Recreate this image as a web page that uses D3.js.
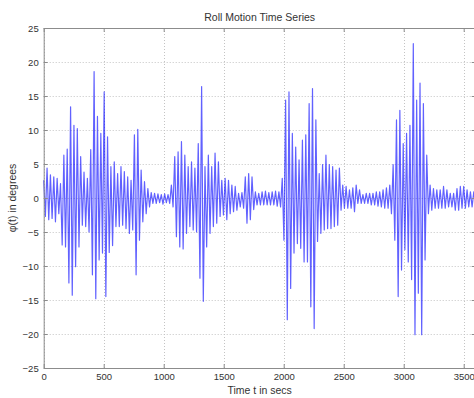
<!DOCTYPE html>
<html>
<head>
<meta charset="utf-8">
<script src="https://cdn.jsdelivr.net/npm/d3@7"></script>
<style>
  body { margin: 0; background: #fff; }
  svg { display: block; }
  text { font-family: "Liberation Sans", Arial, sans-serif; fill: #333; }
</style>
</head>
<body>
<svg id="chart" width="474" height="398"></svg>
<script>
// one crest and one trough per roll cycle (degrees)
const cycleSecs = 28;
const crestDeg = [
  2.6, 4.4, 3.4, 3.1, 2.9, 2.1, 6.3, 7.2, 13.4, 10.7,
  10.2, 6.1, 3.8, 2.9, 7.1, 18.6, 12.0, 9.5, 15.6, 9.0,
  4.6, 5.3, 3.6, 4.6, 3.9, 3.1, 2.6, 9.3, 10.1, 4.1,
  2.4, 1.4, 0.8, 0.7, 0.6, 0.5, 0.6, 0.5, 1.9, 6.1,
  6.8, 8.3, 6.3, 4.6, 5.3, 4.4, 8.0, 16.4, 4.6, 6.3,
  4.6, 6.6, 5.3, 2.6, 2.9, 2.6, 1.9, 1.7, 0.7, 0.8,
  3.1, 3.6, 3.1, 0.9, 0.7, 0.9, 1.0, 0.8, 0.9, 1.0,
  0.9, 2.9, 14.4, 15.6, 9.5, 7.5, 5.6, 8.5, 9.3, 13.9,
  16.1, 11.5, 3.6, 4.9, 6.3, 4.9, 4.6, 4.1, 4.4, 1.9,
  1.7, 1.2, 1.5, 1.9, 1.2, 0.5, 0.7, 0.7, 0.7, 0.9,
  0.9, 1.2, 1.5, 1.9, 4.9, 11.5, 12.9, 8.0, 9.5, 10.7,
  22.7, 14.4, 16.9, 13.9, 6.3, 1.9, 1.4, 1.2, 1.2, 1.7,
  1.2, 0.7, 0.7, 1.4, 1.7, 1.7, 1.2, 0.9, 0.9
];
const troughDeg = [
  -2.7, -3.2, -3.0, -3.5, -2.3, -6.9, -7.2, -12.5, -14.3, -10.1,
  -7.2, -4.0, -4.2, -5.0, -11.3, -14.8, -9.1, -8.1, -14.5, -8.0,
  -7.0, -4.2, -4.2, -4.0, -4.5, -5.2, -4.7, -11.3, -6.2, -3.5,
  -2.3, -1.3, -0.8, -0.8, -0.7, -0.9, -0.7, -0.8, -1.3, -5.7,
  -7.2, -7.5, -5.2, -4.2, -4.7, -5.0, -11.8, -15.2, -7.2, -5.2,
  -4.2, -3.7, -2.7, -2.5, -3.2, -2.3, -2.0, -1.8, -1.3, -1.5,
  -3.7, -3.2, -1.7, -1.0, -1.0, -1.0, -1.0, -1.0, -1.0, -1.2,
  -1.3, -6.2, -17.9, -13.3, -8.1, -6.7, -7.4, -9.4, -9.4, -16.0,
  -19.2, -6.4, -5.2, -4.7, -4.5, -4.5, -4.2, -4.0, -1.8, -1.5,
  -1.5, -1.5, -2.0, -0.8, -0.8, -0.8, -0.8, -1.0, -1.0, -1.2,
  -1.3, -1.5, -1.5, -2.3, -6.2, -14.5, -10.6, -7.6, -9.4, -12.0,
  -20.1, -14.0, -20.1, -9.1, -2.3, -1.8, -1.5, -1.5, -1.5, -1.5,
  -1.3, -1.3, -1.8, -1.8, -1.5, -1.5, -1.3, -1.3, -1.0
];
const xTicks = [0, 500, 1000, 1500, 2000, 2500, 3000, 3500];
const yTicks = [-25, -20, -15, -10, -5, 0, 5, 10, 15, 20, 25];

const plotLeft = 43.7, plotTop = 28, plotW = 432, plotH = 340;

const svg = d3.select("#chart");

const x = d3.scaleLinear().domain([0, 3600]).range([plotLeft, plotLeft + plotW]);
const y = d3.scaleLinear().domain([-25, 25]).range([plotTop + plotH, plotTop]);

// dotted grid
const grid = svg.append("g")
    .attr("stroke", "#c4c4c4")
    .attr("stroke-width", 1)
    .attr("stroke-dasharray", "1,2");
grid.selectAll("line.v")
    .data(xTicks)
    .join("line")
    .attr("x1", d => Math.round(x(d)) + 0.5)
    .attr("x2", d => Math.round(x(d)) + 0.5)
    .attr("y1", plotTop)
    .attr("y2", plotTop + plotH);
grid.selectAll("line.h")
    .data(yTicks)
    .join("line")
    .attr("x1", plotLeft)
    .attr("x2", plotLeft + plotW)
    .attr("y1", d => Math.round(y(d)) + 0.5)
    .attr("y2", d => Math.round(y(d)) + 0.5);

// series: crest then trough half a cycle later
const points = [];
crestDeg.forEach((c, i) => {
    points.push([i * cycleSecs, c]);
    points.push([i * cycleSecs + cycleSecs / 2, troughDeg[i]]);
});

svg.append("path")
    .datum(points)
    .attr("fill", "none")
    .attr("stroke", "#0000ff")
    .attr("stroke-opacity", 0.62)
    .attr("stroke-width", 1.2)
    .attr("stroke-linejoin", "round")
    .attr("d", d3.line().x(d => x(d[0])).y(d => y(d[1])));

// axes, MATLAB box style with inward ticks
function styleAxis(g) {
    g.select(".domain").attr("stroke", "#8c8c8c");
    g.selectAll(".tick line").attr("stroke", "#8c8c8c");
    g.selectAll(".tick text")
        .attr("font-size", "9.5px")
        .attr("fill", "#333")
        .attr("font-family", "Liberation Sans, Arial, sans-serif");
}

const fmt = d3.format("d");

svg.append("g")
    .attr("transform", `translate(0,${plotTop + plotH})`)
    .call(d3.axisBottom(x).tickValues(xTicks).tickFormat(fmt).tickSize(-4).tickPadding(5).tickSizeOuter(0))
    .call(styleAxis);

svg.append("g")
    .attr("transform", `translate(0,${plotTop})`)
    .call(d3.axisTop(x).tickValues(xTicks).tickSize(-4).tickFormat("").tickSizeOuter(0))
    .call(styleAxis);

svg.append("g")
    .attr("transform", `translate(${plotLeft},0)`)
    .call(d3.axisLeft(y).tickValues(yTicks).tickFormat(fmt).tickSize(-4).tickPadding(5).tickSizeOuter(0))
    .call(styleAxis);

svg.append("g")
    .attr("transform", `translate(${plotLeft + plotW},0)`)
    .call(d3.axisRight(y).tickValues(yTicks).tickSize(-4).tickFormat("").tickSizeOuter(0))
    .call(styleAxis);

// labels
svg.append("text")
    .attr("x", plotLeft + plotW / 2)
    .attr("y", 21)
    .attr("text-anchor", "middle")
    .attr("font-size", "10.5px")
    .text("Roll Motion Time Series");

svg.append("text")
    .attr("x", plotLeft + plotW / 2)
    .attr("y", 394)
    .attr("text-anchor", "middle")
    .attr("font-size", "10.5px")
    .text("Time t in secs");

svg.append("text")
    .attr("transform", `translate(16,${plotTop + plotH / 2}) rotate(-90)`)
    .attr("text-anchor", "middle")
    .attr("font-size", "10.5px")
    .text("φ(t) in degrees");
</script>
</body>
</html>
